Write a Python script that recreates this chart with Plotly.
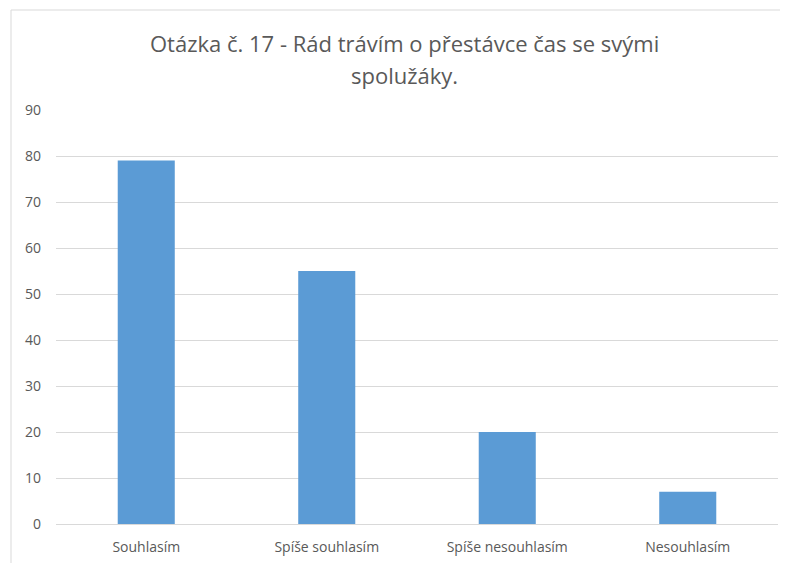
import plotly.graph_objects as go

categories = ["Souhlasím", "Spíše souhlasím", "Spíše nesouhlasím", "Nesouhlasím"]
values = [79, 55, 20, 7]
title_lines = ["Otázka č. 17 - Rád trávím o přestávce čas se svými", "spolužáky."]

W, H = 788, 563
OFF = 8  # page body offset
# desired pixel positions in the screenshot
PL, PR, PT, PB = 56, 778, 110, 524
L = PL - OFF
R = W - (PR - OFF)
T = PT - OFF
B = H - (PB - OFF)
pw = W - L - R
ph = H - T - B

def px(x):
    return (x - OFF - L) / pw

def py(y):
    return (H - B - (y - OFF)) / ph

fig = go.Figure(go.Bar(
    x=categories, y=values,
    marker=dict(color="#5b9bd5", line=dict(width=0)),
    width=0.316,
))

font_family = "Open Sans, Noto Sans, sans-serif"

title_y = [43, 75]
annotations = [dict(
    text=t, xref="paper", yref="paper",
    x=px(404), y=py(yy), xanchor="center", yanchor="middle",
    showarrow=False, font=dict(size=22, color="#595959", family=font_family),
) for t, yy in zip(title_lines, title_y)]

fig.update_layout(
    width=W, height=H,
    margin=dict(l=L, r=R, t=T, b=B),
    paper_bgcolor="white", plot_bgcolor="white",
    showlegend=False,
    font=dict(family=font_family, color="#595959", size=14),
    xaxis=dict(showgrid=False, showline=True, linecolor="#d9d9d9", linewidth=1,
               ticks="", ticklabelstandoff=10, tickfont=dict(size=14, color="#595959")),
    yaxis=dict(range=[0, 90], dtick=10, showgrid=True, gridcolor="#d9d9d9",
               gridwidth=1, zeroline=False, showline=False, ticks="",
               ticklabelstandoff=14, tickfont=dict(size=14, color="#595959")),
    annotations=annotations,
    shapes=[dict(
        type="rect", xref="paper", yref="paper",
        x0=px(11), x1=px(805), y0=py(10), y1=py(580),
        line=dict(color="#d9d9d9", width=1), fillcolor="rgba(0,0,0,0)", layer="below",
    )],
)

fig.write_html("out.html")
